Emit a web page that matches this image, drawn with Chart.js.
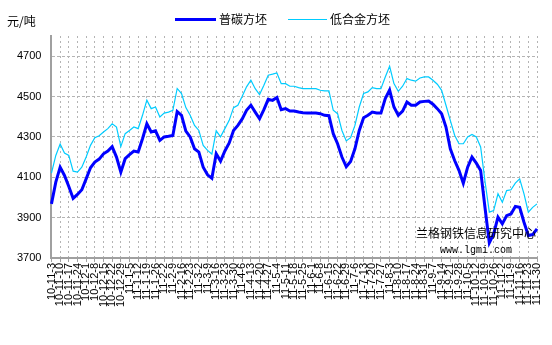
<!DOCTYPE html>
<html><head><meta charset="utf-8">
<script src="https://cdn.jsdelivr.net/npm/chart.js@4"></script>
<style>html,body{margin:0;padding:0;background:#fff}#wrap{width:552px;height:345px}</style>
</head><body><div id="wrap"><canvas id="c" width="552" height="345"></canvas></div>
<script>
// weekly tick labels (categories)
const weeks = ['10-11-3','10-11-10','10-11-17','10-11-24','10-12-1','10-12-8','10-12-15','10-12-22','10-12-29',
 '11-1-5','11-1-12','11-1-19','11-1-26','11-2-2','11-2-9','11-2-16','11-2-23','11-3-2','11-3-9','11-3-16','11-3-23','11-3-30',
 '11-4-6','11-4-13','11-4-20','11-4-27','11-5-4','11-5-11','11-5-18','11-5-25','11-6-1','11-6-8','11-6-15','11-6-22','11-6-29',
 '11-7-6','11-7-13','11-7-20','11-7-27','11-8-3','11-8-10','11-8-17','11-8-24','11-8-31','11-9-7','11-9-14','11-9-21','11-9-28',
 '11-10-5','11-10-12','11-10-19','11-10-26','11-11-2','11-11-9','11-11-16','11-11-23','11-11-30'];
const seriesNames = ['普碳方坯','低合金方坯'];
// values read twice per week (at each weekly tick and half-way between)
const putan = [3968,4076,4150,4109,4054,3995,4015,4038,4092,4147,4175,4190,4216,4230,4252,4200,4125,4192,4212,4230,
 4225,4291,4365,4324,4330,4283,4300,4303,4307,4425,4407,4329,4300,4241,4225,4150,4112,4095,4216,4180,
 4230,4270,4332,4357,4389,4432,4457,4423,4390,4435,4486,4481,4495,4435,4440,4428,4428,4423,4420,4418,
 4418,4418,4415,4407,4405,4316,4266,4200,4152,4178,4241,4332,4395,4407,4423,4418,4418,4490,4532,4448,
 4407,4428,4473,4457,4457,4473,4476,4478,4462,4440,4415,4349,4241,4183,4134,4070,4150,4200,4170,4134,
 3950,3775,3819,3902,3869,3910,3918,3955,3951,3877,3811,3816,3844];
const dihejin = [4120,4208,4265,4220,4208,4130,4125,4150,4200,4258,4296,4306,4324,4341,4365,4349,4252,4316,4332,4349,
 4341,4407,4482,4440,4448,4399,4418,4423,4432,4540,4515,4445,4407,4357,4332,4258,4233,4215,4330,4300,
 4341,4382,4445,4457,4501,4548,4581,4539,4510,4556,4606,4611,4617,4564,4564,4551,4551,4544,4539,4539,
 4539,4539,4531,4528,4528,4432,4415,4332,4280,4296,4357,4448,4515,4523,4544,4539,4539,4597,4650,4564,
 4526,4551,4589,4581,4576,4592,4597,4597,4581,4561,4531,4457,4382,4308,4266,4266,4300,4312,4300,4250,
 4080,3927,3935,4018,3976,4034,4038,4071,4092,4018,3927,3951,3968];
const yTicks = [3700,3900,4100,4300,4500,4700];
const yMin = 3700, yMax = 4800;
const unitLabel = '元/吨';
const watermark = ['兰格钢铁信息研究中心','www.lgmi.com'];

const labels = putan.map((v,i)=> i%2===0 ? weeks[i/2] : '');

const overlay = {
  id:'overlay',
  afterDraw(chart){
    const ctx = chart.ctx;
    ctx.save();
    ctx.fillStyle = '#000';
    ctx.textBaseline = 'middle';
    ctx.font = '12px "Noto Sans CJK SC", sans-serif';
    ctx.fillText(unitLabel, 7, 21);
    // legend
    const pos = [{x:175,w:41,t:219},{x:288,w:39,t:330}];
    chart.data.datasets.forEach((ds,i)=>{
      const p = pos[i];
      ctx.strokeStyle = ds.borderColor;
      ctx.lineWidth = Math.round(ds.borderWidth);
      ctx.beginPath(); ctx.moveTo(p.x,19.5); ctx.lineTo(p.x+p.w,19.5); ctx.stroke();
      ctx.fillStyle = '#000';
      ctx.font = '12px "Noto Sans CJK SC", sans-serif';
      ctx.fillText(ds.label, p.t, 19);
    });
    // watermark
    ctx.textBaseline = 'alphabetic';
    ctx.font = '12px "Noto Sans CJK SC", sans-serif';
    ctx.fillText(watermark[0], 416, 238);
    ctx.font = '10px "Liberation Mono", monospace';
    ctx.fillText(watermark[1], 440, 253);
    ctx.restore();
  }
};

new Chart(document.getElementById('c'), {
  type:'line',
  data:{
    labels,
    datasets:[
      {label:seriesNames[0], data:putan, borderColor:'#0000ff', borderWidth:3, pointRadius:0, tension:0, fill:false},
      {label:seriesNames[1], data:dihejin, borderColor:'#00ccff', borderWidth:1.2, pointRadius:0, tension:0, fill:false}
    ]
  },
  options:{
    responsive:false, animation:false, devicePixelRatio:1,
    layout:{padding:{top:36,left:7,right:15,bottom:37}},
    plugins:{legend:{display:false}, tooltip:{enabled:false}},
    scales:{
      x:{
        type:'category', offset:false,
        afterBuildTicks(scale){ scale.ticks = scale.ticks.filter(t=>t.value%2===0); },
        afterFit(scale){ scale.paddingLeft = 0; scale.paddingRight = 0; },
        ticks:{autoSkip:false, maxRotation:90, minRotation:90, padding:1, color:'#000',
               font:{size:11, family:'"Liberation Sans", sans-serif'}},
        grid:{color:'#b4b4b4', lineWidth:1, drawTicks:true, tickLength:4,
              tickColor:'#a0a0a0', tickBorderDash:[], tickWidth:1},
        border:{color:'#a0a0a0', width:2, dash:[2,3]}
      },
      y:{
        min:yMin, max:yMax,
        afterBuildTicks(scale){ scale.ticks = yTicks.map(v=>({value:v})); },
        ticks:{padding:10, color:'#000', font:{size:11, family:'"Liberation Sans", sans-serif'},
               callback:(v)=>String(v)},
        grid:{color:'#b4b4b4', lineWidth:1, drawTicks:false},
        border:{color:'#a0a0a0', width:2, dash:[3,2]}
      }
    }
  },
  plugins:[overlay]
});
</script></body></html>
